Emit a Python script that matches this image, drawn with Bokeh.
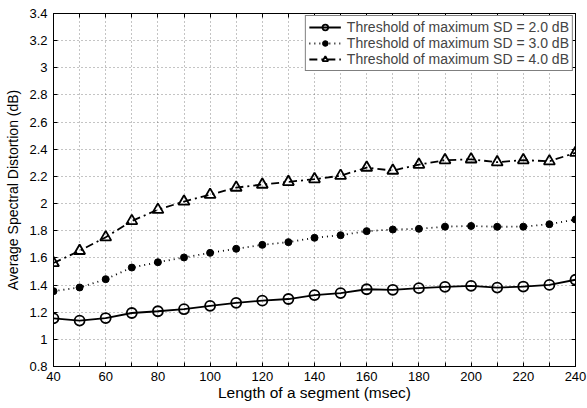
from bokeh.plotting import figure
from bokeh.models import Range1d, FixedTicker, LinearAxis, Legend
from bokeh.embed import file_html
from bokeh.resources import INLINE

seg_len = [40, 50, 60, 70, 80, 90, 100, 110, 120, 130, 140, 150, 160, 170, 180, 190, 200, 210, 220, 230, 240]
sd_2db = [1.155, 1.138, 1.157, 1.194, 1.207, 1.222, 1.247, 1.269, 1.285, 1.297, 1.326, 1.341, 1.369, 1.365, 1.377, 1.387, 1.394, 1.381, 1.389, 1.401, 1.439]
sd_3db = [1.355, 1.382, 1.443, 1.529, 1.568, 1.603, 1.637, 1.667, 1.696, 1.716, 1.748, 1.767, 1.797, 1.809, 1.814, 1.830, 1.835, 1.829, 1.830, 1.848, 1.883]
sd_4db = [1.562, 1.652, 1.752, 1.872, 1.955, 2.015, 2.065, 2.118, 2.140, 2.160, 2.180, 2.205, 2.265, 2.243, 2.287, 2.320, 2.326, 2.305, 2.320, 2.312, 2.374]
labels = ["Threshold of maximum SD = 2.0 dB",
          "Threshold of maximum SD = 3.0 dB",
          "Threshold of maximum SD = 4.0 dB"]
x_ticks = list(range(40, 241, 10))
y_ticks = [0.8, 1.0, 1.2, 1.4, 1.6, 1.8, 2.0, 2.2, 2.4, 2.6, 2.8, 3.0, 3.2, 3.4]

FONT = "Liberation Sans"

p = figure(width=587, height=404, output_backend="svg", toolbar_location=None,
           x_range=Range1d(40, 240), y_range=Range1d(0.8, 3.4),
           min_border_left=53, min_border_right=12, min_border_top=13, min_border_bottom=38)
p.outline_line_color = "black"
p.outline_line_width = 1
p.background_fill_color = "white"
p.border_fill_color = "white"

x_overrides = {t: (str(t) if t % 20 == 0 else "") for t in x_ticks}
y_overrides = {t: ("%g" % t) for t in y_ticks}

p.xaxis.ticker = FixedTicker(ticks=x_ticks)
p.yaxis.ticker = FixedTicker(ticks=y_ticks)
p.xaxis.major_label_overrides = x_overrides
p.yaxis.major_label_overrides = y_overrides
for ax in (p.xaxis[0], p.yaxis[0]):
    ax.major_tick_in = 4
    ax.major_tick_out = 0
    ax.minor_tick_in = 0
    ax.minor_tick_out = 0
    ax.axis_line_color = "black"
    ax.axis_line_width = 1
    ax.major_tick_line_color = "black"
    ax.major_label_text_font = FONT
    ax.major_label_text_font_size = "13px"
    ax.major_label_text_color = "black"
    ax.axis_label_text_font = FONT
    ax.axis_label_text_font_style = "normal"
    ax.axis_label_text_color = "black"
p.xaxis.axis_label = "Length of a segment (msec)"
p.yaxis.axis_label = "Average Spectral Distortion (dB)"
p.xaxis.axis_label_text_font_size = "15.5px"
p.yaxis.axis_label_text_font_size = "14px"
p.xaxis.major_label_standoff = 5
p.yaxis.major_label_standoff = 6
p.xaxis.axis_label_standoff = 0
p.yaxis.axis_label_standoff = 5

for loc, tk in (("right", y_ticks), ("above", x_ticks)):
    ax = LinearAxis(ticker=FixedTicker(ticks=tk), major_tick_in=4, major_tick_out=0,
                    minor_tick_in=0, minor_tick_out=0, major_label_standoff=0,
                    major_label_text_font_size="0px", axis_line_color="black")
    ax.major_label_overrides = {t: "" for t in tk}
    p.add_layout(ax, loc)

p.xgrid.ticker = FixedTicker(ticks=x_ticks)
p.ygrid.ticker = FixedTicker(ticks=y_ticks)
for g in (p.xgrid[0], p.ygrid[0]):
    g.grid_line_color = "#555555"
    g.grid_line_alpha = 0.7
    g.grid_line_dash = "1 3"
    g.grid_line_width = 1

p.line(seg_len, sd_2db, line_color="black", line_width=1.8, legend_label=labels[0])
p.scatter(seg_len, sd_2db, marker="circle", size=10, line_color="black", line_width=1.8,
          fill_color=None, legend_label=labels[0])

p.line(seg_len, sd_3db, line_color="black", line_width=1.8, line_dash="1 4", legend_label=labels[1])
p.scatter(seg_len, sd_3db, marker="circle", size=7, line_color="black", fill_color="black",
          legend_label=labels[1])

p.line(seg_len, sd_4db, line_color="black", line_width=1.8, line_dash="8 4 2 4", legend_label=labels[2])
p.scatter(seg_len, sd_4db, marker="triangle", size=11, line_color="black", line_width=1.8,
          fill_color=None, legend_label=labels[2])

lg = p.legend[0]
lg.location = "top_right"
lg.margin = 2
lg.border_line_color = "black"
lg.border_line_width = 1.2
lg.background_fill_color = "white"
lg.background_fill_alpha = 1
lg.label_text_font = FONT
lg.label_text_font_size = "14px"
lg.label_height = 14
lg.glyph_height = 14
lg.glyph_width = 32
lg.label_standoff = 6
lg.spacing = 0
lg.padding = 3

open("out.html", "w").write(file_html(p, INLINE))
